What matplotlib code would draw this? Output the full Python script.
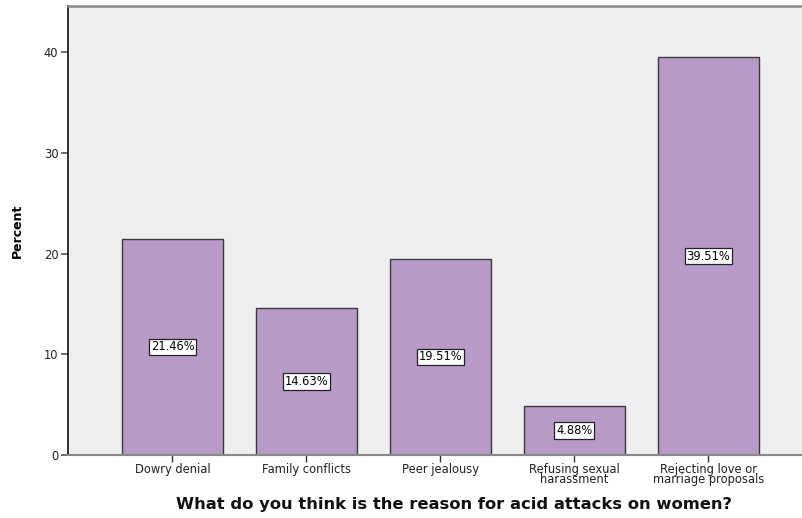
import matplotlib
matplotlib.use("Agg")
import matplotlib.pyplot as plt

categories = ["Dowry denial", "Family conflicts", "Peer jealousy",
              "Refusing sexual\nharassment", "Rejecting love or\nmarriage proposals"]
percents = [21.46, 14.63, 19.51, 4.88, 39.51]
yticks = [0, 10, 20, 30, 40]

plt.rcParams['font.family'] = ['DejaVu Sans']

fig = plt.figure(figsize=(8.02, 5.18), dpi=100)
W, H = 802, 518
ax = fig.add_axes([68 / W, 1 - 455 / H, (802 - 68) / W, (455 - 6) / H])
ax.set_facecolor('#efefef')

x = list(range(len(categories)))
ax.bar(x, percents, width=0.754, color='#b89ac8', edgecolor='#3a3a3a', linewidth=1.0, zorder=2)
for xi, v in zip(x, percents):
    ax.text(xi, v / 2, f"{v:.2f}%", ha='center', va='center', fontsize=8.3, zorder=3,
            bbox=dict(boxstyle='square,pad=0.15', facecolor='white', edgecolor='#222222', linewidth=0.9))

ax.set_xlim(-0.78, 4.70)
ax.set_ylim(0, 44.6)
ax.set_yticks(yticks)
ax.set_xticks(x)
ax.set_xticklabels(categories, fontsize=8.3, linespacing=0.75, color='#222222')
ax.tick_params(axis='y', labelsize=8.3, length=5, color='#555555', width=1.2, pad=2, labelcolor='#222222')
ax.tick_params(axis='x', length=5, color='#333333', width=1.0, pad=0.5)

ax.spines['right'].set_visible(False)
ax.spines['left'].set_color('#111111')
ax.spines['left'].set_linewidth(1.2)
ax.spines['top'].set_color('#888888')
ax.spines['top'].set_linewidth(1.8)
ax.spines['bottom'].set_color('#888888')
ax.spines['bottom'].set_linewidth(1.5)

ax.set_ylabel("Percent", fontsize=9, fontweight='bold', labelpad=14)
fig.text(454 / W, 1 - 505 / H, "What do you think is the reason for acid attacks on women?",
         fontsize=11.8, fontweight='heavy', ha='center', va='center', color='#111111')

fig.savefig("out.png", dpi=100)
